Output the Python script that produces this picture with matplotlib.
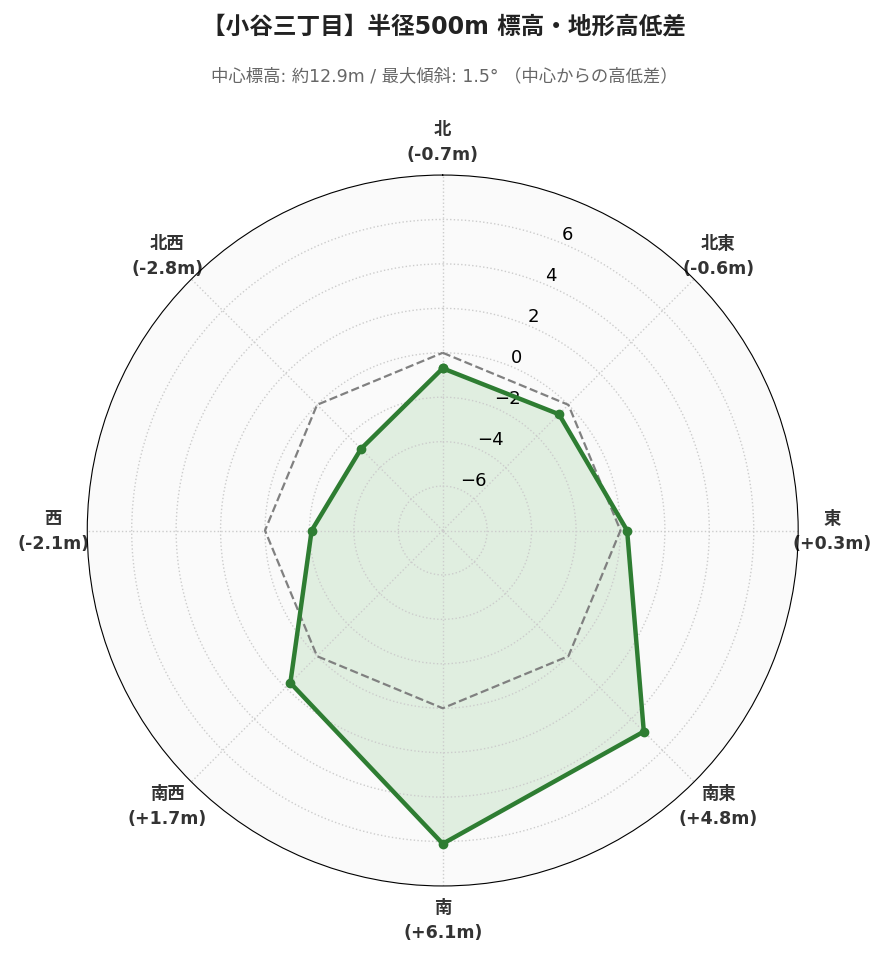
import numpy as np
import matplotlib
matplotlib.use("Agg")
import matplotlib.pyplot as plt

plt.rcParams['font.family'] = ['DejaVu Sans', 'Noto Sans CJK JP']

directions = ['北', '北東', '東', '南東', '南', '南西', '西', '北西']
values = [-0.7, -0.6, 0.3, 4.8, 6.1, 1.7, -2.1, -2.8]
baseline = [0, 0, 0, 0, 0, 0, 0, 0]
rticks = [-6, -4, -2, 0, 2, 4, 6]

fig = plt.figure(figsize=(8.89, 9.62), dpi=100)
ax = fig.add_axes([0.098, 0.078, 0.8, 0.739], projection='polar')
ax.set_theta_zero_location('N')
ax.set_theta_direction(-1)
ax.set_facecolor('#fafafa')

theta = np.deg2rad(np.arange(len(directions)) * 45)
tc = np.append(theta, theta[0])
vc = np.append(values, values[0])
bc = np.append(baseline, baseline[0])

ax.plot(tc, bc, color='gray', ls='--', lw=1.6)
ax.fill(tc, vc, color='#4caf50', alpha=0.15)
ax.plot(tc, vc, color='#2e7d32', lw=3.2, marker='o', ms=6)

ax.set_ylim(-8, 8)
ax.set_yticks(rticks)
ax.set_yticklabels([f'{t}'.replace('-', '\u2212') for t in rticks], fontsize=13)
ax.set_rlabel_position(22.5)
ax.set_xticks(theta)
ax.set_xticklabels([f'{d}\n({v:+.1f}m)' for d, v in zip(directions, values)],
                   fontsize=12.5, fontweight='bold', color='#333333', linespacing=1.5)
ax.tick_params(axis='x', pad=14)
ax.grid(color='#cccccc', ls=':', lw=1)
ax.spines['polar'].set_color('black')

fig.text(0.5, 0.972, '【小谷三丁目】半径500m 標高・地形高低差', ha='center', va='center',
         fontsize=17, fontweight='bold', color='#222222')
fig.text(0.5, 0.921, '中心標高: 約12.9m / 最大傾斜: 1.5° （中心からの高低差）', ha='center', va='center',
         fontsize=12.5, color='#666666')
fig.savefig('out.png', dpi=100)
